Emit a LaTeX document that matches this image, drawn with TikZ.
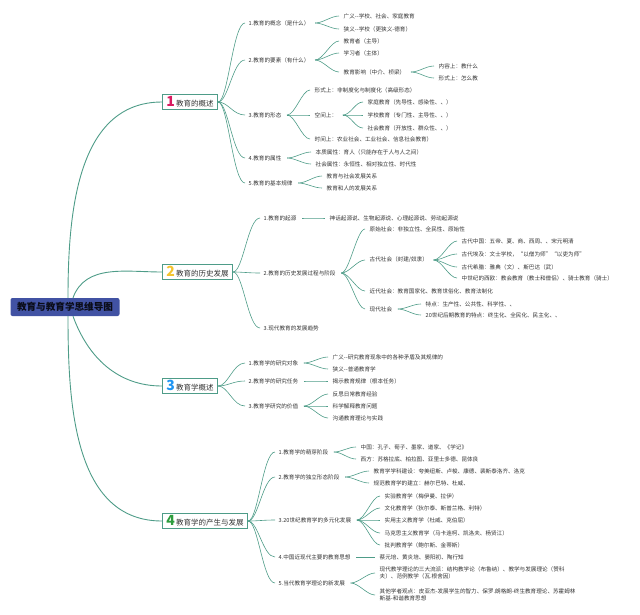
\documentclass[tikz,border=0pt]{standalone}
\usepackage{fontspec}
\newfontfamily\cjk{Noto Sans CJK SC}
\definecolor{linkc}{HTML}{4E9C88}
\definecolor{boxc}{HTML}{4E9C88}
\definecolor{rootc}{HTML}{4152A3}
\definecolor{txtc}{HTML}{333333}
\definecolor{numa}{HTML}{D81B60}
\definecolor{numb}{HTML}{F4C430}
\definecolor{numc}{HTML}{2196F3}
\definecolor{numd}{HTML}{2E9D3E}
\tikzset{
  leaf/.style={anchor=west, inner sep=0.5pt, text=txtc, font=\cjk\fontsize{5.6}{7}\selectfont, align=left},
  topic/.style={anchor=west, draw=boxc, line width=0.8pt, fill=white, minimum height=15pt, inner xsep=4pt, inner ysep=1pt, font=\cjk\fontsize{7.5}{8}\selectfont, text=txtc},
  rootbox/.style={fill=rootc, rounded corners=2pt, minimum width=109pt, minimum height=18pt, inner sep=0pt, font=\cjk\bfseries\fontsize{9.6}{10}\selectfont, text=black!85!rootc},
  lk/.style={draw=linkc, line width=0.6pt},
  trunk/.style={draw=linkc, line width=0.9pt}
}
\newcommand{\topicnum}[2]{{\color{#1}\fontsize{14}{14}\selectfont\bfseries #2}\,}

\begin{document}
\begin{tikzpicture}[x=1pt,y=1pt]
  \useasboundingbox (0,0) rectangle (640,-614);
  \node[rootbox] (root) at (65,-307) {教育与教育学思维导图};
  \node[topic] (m1) at (162,-102) {\topicnum{numa}{1}教育的概述};
  \node[topic] (m2) at (162,-272) {\topicnum{numb}{2}教育的历史发展};
  \node[topic] (m3) at (162,-386) {\topicnum{numc}{3}教育学概述};
  \node[topic] (m4) at (162,-521) {\topicnum{numd}{4}教育学的产生与发展};

  \node[leaf] (a11) at (248,-23) {1.教育的概念（是什么）};
  \node[leaf] (a12) at (248,-60) {2.教育的要素（有什么）};
  \node[leaf] (a13) at (248,-115) {3.教育的形态};
  \node[leaf] (a14) at (248,-158) {4.教育的属性};
  \node[leaf] (a15) at (248,-183) {5.教育的基本规律};
  \node[leaf] (b111) at (343,-16) {广义--学校、社会、家庭教育};
  \node[leaf] (b112) at (343,-29) {狭义--学校（更狭义-德育）};
  \node[leaf] (b121) at (343,-41) {教育者（主导）};
  \node[leaf] (b122) at (343,-53) {学习者（主体）};
  \node[leaf] (b123) at (343,-72) {教育影响（中介、桥梁）};
  \node[leaf] (c1231) at (438,-66) {内容上：教什么};
  \node[leaf] (c1232) at (438,-78) {形式上：怎么教};
  \node[leaf] (b131) at (314,-90) {形式上：非制度化与制度化（高级形态）};
  \node[leaf] (b132) at (314,-115) {空间上：};
  \node[leaf] (c1321) at (367,-102) {家庭教育（先导性、感染性、、）};
  \node[leaf] (c1322) at (367,-115) {学校教育（专门性、主导性、、）};
  \node[leaf] (c1323) at (367,-128) {社会教育（开放性、群众性、、）};
  \node[leaf] (b133) at (314,-139) {时间上：农业社会、工业社会、信息社会教育）};
  \node[leaf] (b141) at (315,-152) {本质属性：育人（只能存在于人与人之间）};
  \node[leaf] (b142) at (315,-164) {社会属性：永恒性、相对独立性、时代性};
  \node[leaf] (b151) at (326,-176) {教育与社会发展关系};
  \node[leaf] (b152) at (326,-188) {教育和人的发展关系};

  \node[leaf] (a21) at (263,-218) {1.教育的起源};
  \node[leaf] (a22) at (263,-273) {2.教育的历史发展过程与阶段};
  \node[leaf] (a23) at (263,-328) {3.现代教育的发展趋势};
  \node[leaf] (b211) at (329,-218) {神话起源说、生物起源说、心理起源说、劳动起源说};
  \node[leaf] (b221) at (369,-229) {原始社会：非独立性、全民性、原始性};
  \node[leaf] (b222) at (369,-260) {古代社会（封建/奴隶）};
  \node[leaf] (c2221) at (461,-241) {古代中国：五帝、夏、商、西周、、宋元明清};
  \node[leaf] (c2222) at (461,-254) {古代埃及：文士学校，“以僧为师”“以吏为师”};
  \node[leaf] (c2223) at (461,-267) {古代希腊：雅典（文）、斯巴达（武）};
  \node[leaf] (c2224) at (461,-278) {中世纪的西欧：教会教育（教士和僧侣）、骑士教育（骑士）};
  \node[leaf] (b223) at (369,-291) {近代社会：教育国家化、教育世俗化、教育法制化};
  \node[leaf] (b224) at (369,-309) {现代社会};
  \node[leaf] (c2241) at (425,-304) {特点：生产性、公共性、科学性、、};
  \node[leaf] (c2242) at (425,-315) {20世纪后期教育的特点：终生化、全民化、民主化、、};

  \node[leaf] (a31) at (248,-363) {1.教育学的研究对象};
  \node[leaf] (a32) at (248,-381) {2.教育学的研究任务};
  \node[leaf] (a33) at (248,-406) {3.教育学研究的价值};
  \node[leaf] (b311) at (332,-357) {广义--研究教育现象中的各种矛盾及其规律的};
  \node[leaf] (b312) at (332,-369) {狭义--普通教育学};
  \node[leaf] (b321) at (332,-381) {揭示教育规律（根本任务）};
  \node[leaf] (b331) at (332,-394) {反思日常教育经验};
  \node[leaf] (b332) at (332,-406) {科学解释教育问题};
  \node[leaf] (b333) at (332,-418) {沟通教育理论与实践};

  \node[leaf] (a41) at (278,-452) {1.教育学的萌芽阶段};
  \node[leaf] (a42) at (278,-477) {2.教育学的独立形态阶段};
  \node[leaf] (a43) at (278,-520) {3.20世纪教育学的多元化发展};
  \node[leaf] (a44) at (278,-557) {4.中国近现代主要的教育思想};
  \node[leaf] (a45) at (278,-583) {5.当代教育学理论的新发展};
  \node[leaf] (b411) at (360,-447) {中国：孔子、荀子、墨家、道家、《学记》};
  \node[leaf] (b412) at (360,-459) {西方：苏格拉底、柏拉图、亚里士多德、昆体良};
  \node[leaf] (b421) at (373,-471) {教育学学科建设：夸美纽斯、卢梭、康德、裴斯泰洛齐、洛克};
  \node[leaf] (b422) at (373,-483) {规范教育学的建立：赫尔巴特、杜威、};
  \node[leaf] (b431) at (384,-496) {实验教育学（梅伊曼、拉伊）};
  \node[leaf] (b432) at (384,-508) {文化教育学（狄尔泰、斯普兰格、利特）};
  \node[leaf] (b433) at (384,-520) {实用主义教育学（杜威、克伯屈）};
  \node[leaf] (b434) at (384,-533) {马克思主义教育学（马卡连柯、凯洛夫、杨贤江）};
  \node[leaf] (b435) at (384,-545) {批判教育学（鲍尔斯、金蒂斯）};
  \node[leaf] (b441) at (379,-557) {蔡元培、黄炎培、晏阳初、陶行知};
  \node[leaf] (b451) at (379,-573) {现代教学理论的三大流派：结构教学论（布鲁纳）、教学与发展理论（赞科\\夫）、范例教学（瓦.根舍因）};
  \node[leaf] (b452) at (379,-595) {其他学者观点：皮亚杰-发展学生的智力、保罗.朗格朗-终生教育理论、苏霍姆林\\斯基-和谐教育思想};

  \draw[trunk] ([xshift=3pt]root.north) to[out=90,in=180] (m1.west);
  \draw[trunk] ([xshift=8pt]root.north) to[out=70,in=180] (m2.west);
  \draw[trunk] ([xshift=8pt]root.south) to[out=-70,in=180] (m3.west);
  \draw[trunk] ([xshift=3pt]root.south) to[out=-90,in=180] (m4.west);

  \foreach \p/\c in {m1/a11,m1/a12,m1/a13,m1/a14,m1/a15,m2/a21,m2/a22,m2/a23,m3/a31,m3/a32,m3/a33,m4/a41,m4/a42,m4/a43,m4/a44,m4/a45}
  {
    \draw[lk] (\p.east) .. controls +(10,0) and +(-12,0) .. ([xshift=-3pt]\c.west);
  }
  \foreach \p/\c in {a11/b111,a11/b112,a12/b121,a12/b122,a12/b123,b123/c1231,b123/c1232,a13/b131,a13/b132,a13/b133,b132/c1321,b132/c1322,b132/c1323,a14/b141,a14/b142,a15/b151,a15/b152,a21/b211,a22/b221,a22/b222,a22/b223,a22/b224,b222/c2221,b222/c2222,b222/c2223,b222/c2224,b224/c2241,b224/c2242,a31/b311,a31/b312,a32/b321,a33/b331,a33/b332,a33/b333,a41/b411,a41/b412,a42/b421,a42/b422,a43/b431,a43/b432,a43/b433,a43/b434,a43/b435,a44/b441,a45/b451,a45/b452}
  {
    \draw[lk] ([xshift=5pt]\p.east) .. controls +(8,0) and +(-8,0) .. ([xshift=-4pt]\c.west);
  }
\end{tikzpicture}
\end{document}
